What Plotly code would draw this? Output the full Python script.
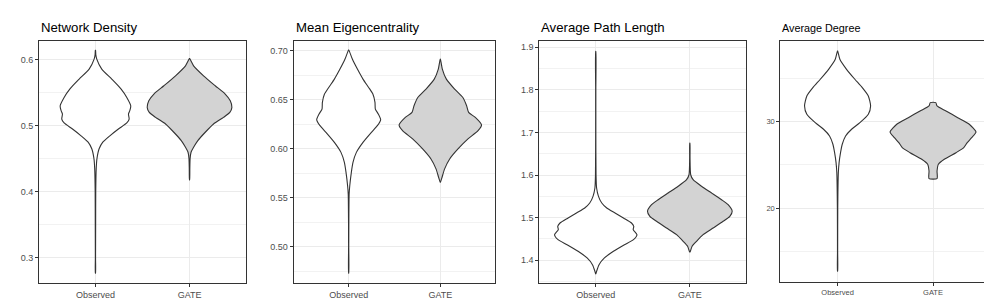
import plotly.graph_objects as go

# ---------------- data ----------------
titles = ["Network Density", "Mean Eigencentrality", "Average Path Length", "Average Degree"]
categories = ["Observed", "GATE"]

# violin profiles: y values and scaled half-widths (category units)
nd_obs_y = [0.614, 0.607, 0.6006, 0.5855, 0.5704, 0.5553, 0.5427, 0.530, 0.5226, 0.5176, 0.510, 0.504,
            0.495, 0.485, 0.475, 0.465, 0.450, 0.435, 0.40, 0.35, 0.30, 0.277]
nd_obs_w = [0.001, 0.004, 0.014, 0.067, 0.173, 0.273, 0.333, 0.375, 0.365, 0.351, 0.358, 0.333,
            0.244, 0.156, 0.078, 0.039, 0.016, 0.008, 0.003, 0.002, 0.001, 0.001]
nd_gate_y = [0.6015, 0.5905, 0.5754, 0.5603, 0.5478, 0.5377, 0.5276, 0.520, 0.5125, 0.5025, 0.490,
             0.4774, 0.4673, 0.4598, 0.450, 0.435, 0.418]
nd_gate_w = [0.001, 0.043, 0.149, 0.273, 0.379, 0.433, 0.45, 0.428, 0.361, 0.255, 0.167,
             0.088, 0.043, 0.016, 0.006, 0.003, 0.001]

me_obs_y = [0.7007, 0.6913, 0.6811, 0.6709, 0.6624, 0.6557, 0.6472, 0.6404, 0.6354, 0.6296, 0.6235,
            0.6167, 0.6065, 0.5963, 0.5862, 0.576, 0.5625, 0.554, 0.53, 0.50, 0.4734]
me_obs_w = [0.001, 0.040, 0.095, 0.156, 0.218, 0.264, 0.287, 0.291, 0.323, 0.349, 0.313,
            0.248, 0.156, 0.084, 0.047, 0.029, 0.012, 0.005, 0.002, 0.001, 0.001]
me_gate_y = [0.6913, 0.6811, 0.6709, 0.6608, 0.6522, 0.6438, 0.637, 0.6319, 0.6242, 0.6184, 0.610,
             0.5998, 0.5896, 0.5795, 0.571, 0.5659]
me_gate_w = [0.001, 0.022, 0.066, 0.156, 0.246, 0.287, 0.309, 0.382, 0.45, 0.412, 0.302,
             0.193, 0.102, 0.047, 0.019, 0.001]

pl_obs_y = [1.890, 1.80, 1.70, 1.60, 1.5695, 1.55, 1.5343, 1.5226, 1.5109, 1.4992, 1.4874, 1.4797,
            1.4718, 1.46, 1.4483, 1.4366, 1.4211, 1.4054, 1.3897, 1.3742, 1.368]
pl_obs_w = [0.001, 0.001, 0.001, 0.003, 0.009, 0.029, 0.064, 0.117, 0.205, 0.294, 0.380, 0.404,
            0.398, 0.438, 0.401, 0.305, 0.188, 0.092, 0.035, 0.009, 0.001]
pl_gate_y = [1.675, 1.64, 1.6006, 1.589, 1.5735, 1.5578, 1.542, 1.5303, 1.5149, 1.5031, 1.4914,
             1.4757, 1.46, 1.4445, 1.4328, 1.4195]
pl_gate_w = [0.001, 0.002, 0.009, 0.035, 0.124, 0.231, 0.337, 0.407, 0.45, 0.425, 0.354,
             0.248, 0.141, 0.071, 0.024, 0.002]

ad_obs_y = [38.15, 37.2, 36.04, 34.89, 33.92, 32.96, 31.81, 30.85, 29.88, 29.12, 28.35, 27.39,
            26.42, 25.27, 24.12, 20.0, 15.0, 12.74]
ad_obs_w = [0.001, 0.024, 0.094, 0.181, 0.259, 0.322, 0.346, 0.322, 0.234, 0.147, 0.084, 0.049,
            0.031, 0.016, 0.008, 0.002, 0.001, 0.001]
ad_gate_y = [32.19, 31.81, 31.23, 30.46, 29.7, 28.81, 28.15, 27.58, 27.0, 26.42, 25.66, 25.09,
             24.31, 23.43]
ad_gate_w = [0.029, 0.042, 0.136, 0.259, 0.380, 0.45, 0.405, 0.358, 0.322, 0.241, 0.118, 0.056,
             0.042, 0.042]

y_ticks = [[0.3, 0.4, 0.5, 0.6], [0.50, 0.55, 0.60, 0.65, 0.70],
           [1.4, 1.5, 1.6, 1.7, 1.8, 1.9], [20, 30]]
y_ticktext = [["0.3", "0.4", "0.5", "0.6"], ["0.50", "0.55", "0.60", "0.65", "0.70"],
              ["1.4", "1.5", "1.6", "1.7", "1.8", "1.9"], ["20", "30"]]
y_ranges = [[0.262, 0.628], [0.463, 0.710], [1.346, 1.915], [11.46, 39.34]]
minor_dtick = [0.05, 0.025, 0.05, 5]

profiles = [
    [(nd_obs_y, nd_obs_w), (nd_gate_y, nd_gate_w)],
    [(me_obs_y, me_obs_w), (me_gate_y, me_gate_w)],
    [(pl_obs_y, pl_obs_w), (pl_gate_y, pl_gate_w)],
    [(ad_obs_y, ad_obs_w), (ad_gate_y, ad_gate_w)],
]

# ---------------- layout / styles ----------------
W, H = 992, 299
x_domains = [(31, 238), (285.7, 487.3), (531.3, 738.3), (772.3, 982.3)]
y_domains = [(33, 275), (32.7, 275.3), (32.7, 275.3), (32.7, 274.3)]
fills = ["#FFFFFF", "#D3D3D3"]
FONT = "Liberation Sans, Arial, sans-serif"
tick_sizes = [9, 9, 9, 7.5]
title_sizes = [13.2, 13.2, 13.2, 10.8]

fig = go.Figure()
for p in range(4):
    xa = "x" if p == 0 else f"x{p+1}"
    ya = "y" if p == 0 else f"y{p+1}"
    for g, (ys, ws) in enumerate(profiles[p]):
        c = g + 1
        xs = [c + w for w in ws] + [c - w for w in reversed(ws)] + [c + ws[0]]
        yy = list(ys) + list(reversed(ys)) + [ys[0]]
        fig.add_trace(go.Scatter(
            x=xs, y=yy, mode="lines", fill="toself", fillcolor=fills[g],
            line=dict(color="#333333", width=1.1, shape="spline", smoothing=0.6),
            xaxis=xa, yaxis=ya, showlegend=False, hoverinfo="skip"))

    x0, x1 = x_domains[p]
    yt, yb = y_domains[p]
    axis_common = dict(showline=True, linecolor="#333333", linewidth=1, mirror=True,
                       ticks="outside", ticklen=3, tickcolor="#333333", tickwidth=1,
                       zeroline=False, gridcolor="#EBEBEB", gridwidth=1,
                       tickfont=dict(family=FONT, size=tick_sizes[p], color="#4D4D4D"))
    fig.layout[f"xaxis{'' if p == 0 else p+1}"] = dict(
        domain=[x0 / W, x1 / W], range=[0.4, 2.6], tickvals=[1, 2], ticktext=categories,
        anchor=ya, showgrid=True, fixedrange=True, **axis_common)
    fig.layout[f"yaxis{'' if p == 0 else p+1}"] = dict(
        domain=[1 - yb / H, 1 - yt / H], range=y_ranges[p], tickvals=y_ticks[p],
        ticktext=y_ticktext[p], anchor=xa, showgrid=True,
        minor=dict(dtick=minor_dtick[p], tick0=0, showgrid=True, gridcolor="#F2F2F2",
                   gridwidth=0.6, ticks=""),
        **axis_common)
    fig.add_annotation(text=titles[p], xref="paper", yref="paper", x=x0 / W, y=1 - 20 / H,
                       xanchor="left", yanchor="middle", showarrow=False,
                       font=dict(family=FONT, size=title_sizes[p], color="#000000"))

fig.update_layout(width=W, height=H, margin=dict(l=0, r=0, t=0, b=0),
                  paper_bgcolor="white", plot_bgcolor="white")
fig.write_html("out.html")
